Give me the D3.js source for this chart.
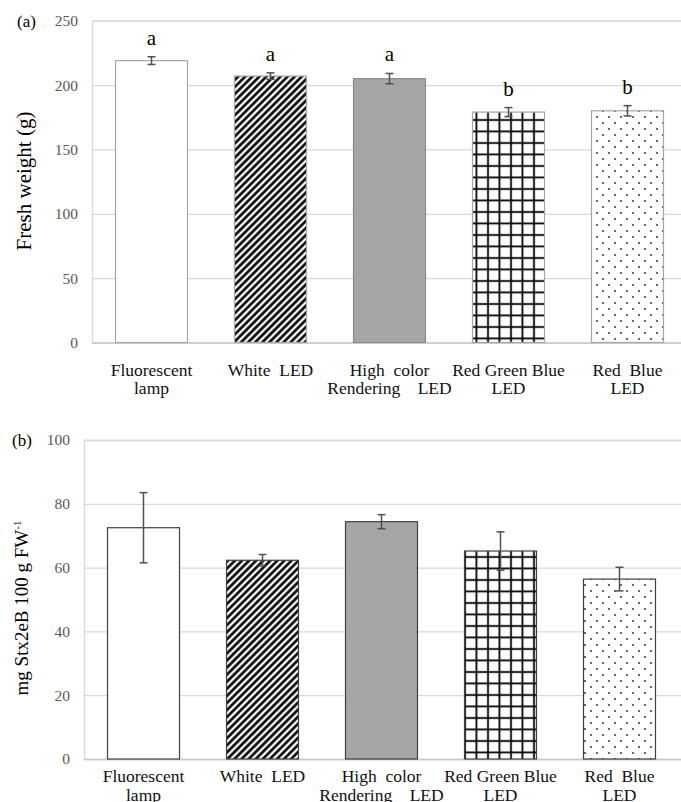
<!DOCTYPE html>
<html>
<head>
<meta charset="utf-8">
<script src="https://cdn.jsdelivr.net/npm/d3@7"></script>
<style>
  body { margin: 0; background: #fff; }
  svg text { font-family: "Liberation Serif", "Times New Roman", serif; white-space: pre; }
</style>
</head>
<body>
<div id="chart"></div>
<script>
// categories and their two-line tick labels
var categories = ["Fluorescent lamp", "White LED", "High color Rendering LED", "Red Green Blue LED", "Red Blue LED"];
var labelLines = [["Fluorescent", "lamp"], ["White  LED"], ["High  color", "Rendering    LED"], ["Red Green Blue", "LED"], ["Red  Blue", "LED"]];

// (a) fresh weight
var freshWeight = [219, 207, 205, 179, 180];
var freshWeightErr = [3, 2.5, 4, 3.5, 4];
var freshLetters = ["a", "a", "a", "b", "b"];
var weightTicks = [0, 50, 100, 150, 200, 250];

// (b) Stx2eB content
var stxContent = [72.5, 62.3, 74.4, 65.2, 56.4];
var stxErr = [11, 1.8, 2.2, 6, 3.7];
var stxTicks = [0, 20, 40, 60, 80, 100];

var barFills = ["#ffffff", "url(#stripes)", "#a6a6a6", "url(#grid)", "url(#dots)"];

var svgWidth = 681;
var svgHeight = 802;

var svg = d3.select("#chart")
  .append("svg")
  .attr("width", svgWidth)
  .attr("height", svgHeight);

// fill patterns
var defs = svg.append("defs");

var stripes = defs.append("pattern")
  .attr("id", "stripes")
  .attr("patternUnits", "userSpaceOnUse")
  .attr("width", 5)
  .attr("height", 10)
  .attr("patternTransform", "rotate(45)");
stripes.append("rect").attr("width", 5).attr("height", 10).attr("fill", "#fff");
stripes.append("line")
  .attr("x1", 2.5).attr("y1", 0).attr("x2", 2.5).attr("y2", 10)
  .attr("stroke", "#000").attr("stroke-width", 2.6);

var grid = defs.append("pattern")
  .attr("id", "grid")
  .attr("patternUnits", "userSpaceOnUse")
  .attr("width", 11.5)
  .attr("height", 11.5);
grid.append("rect").attr("width", 11.5).attr("height", 11.5).attr("fill", "#fff");
grid.append("line")
  .attr("x1", 5).attr("y1", 0).attr("x2", 5).attr("y2", 11.5)
  .attr("stroke", "#000").attr("stroke-width", 1.8);
grid.append("line")
  .attr("x1", 0).attr("y1", 5).attr("x2", 11.5).attr("y2", 5)
  .attr("stroke", "#000").attr("stroke-width", 1.8);

var dots = defs.append("pattern")
  .attr("id", "dots")
  .attr("patternUnits", "userSpaceOnUse")
  .attr("width", 12)
  .attr("height", 12);
dots.append("rect").attr("width", 12).attr("height", 12).attr("fill", "#fff");
dots.append("circle").attr("cx", 3).attr("cy", 3).attr("r", 0.9).attr("fill", "#222");
dots.append("circle").attr("cx", 9).attr("cy", 9).attr("r", 0.9).attr("fill", "#222");

// draws one panel
function drawPanel(opt) {
  var g = svg.append("g");

  var xScale = d3.scaleBand()
    .domain(categories)
    .range([opt.left, opt.left + 595])
    .paddingInner(0.395)
    .paddingOuter(0.1975);

  var yScale = d3.scaleLinear()
    .domain([0, d3.max(opt.ticks)])
    .range([opt.bottom, opt.top]);

  // gridlines
  var yAxis = d3.axisLeft(yScale)
    .tickValues(opt.ticks)
    .tickSize(-(svgWidth - opt.left + 20))
    .tickPadding(14);

  var axisG = g.append("g")
    .attr("transform", `translate(${opt.left},0)`)
    .call(yAxis);
  axisG.select(".domain").attr("stroke", "#d9d9d9").attr("stroke-width", 1.3);
  axisG.selectAll(".tick line").attr("stroke", "#d9d9d9").attr("stroke-width", 1.3);
  axisG.selectAll(".tick text")
    .attr("fill", "#595959")
    .style("font-size", "15.5px")
    .style("font-family", "'Liberation Serif', serif");
  axisG.selectAll(".tick").filter(d => d === 0).select("line").attr("stroke", "#c8c8c8");

  // bars
  g.selectAll(".bar")
    .data(opt.values)
    .enter()
    .append("rect")
    .attr("x", (d, i) => xScale(categories[i]))
    .attr("y", d => yScale(d))
    .attr("width", xScale.bandwidth())
    .attr("height", d => yScale(0) - yScale(d))
    .attr("fill", (d, i) => barFills[i])
    .attr("stroke", (d, i) => i === 2 ? opt.stroke2 : opt.stroke)
    .attr("stroke-width", 1.2);

  // error bars
  var errG = g.selectAll(".err")
    .data(opt.values)
    .enter()
    .append("g")
    .attr("stroke", "#505050")
    .attr("stroke-width", 1.5);
  errG.append("line")
    .attr("x1", (d, i) => xScale(categories[i]) + xScale.bandwidth() / 2)
    .attr("x2", (d, i) => xScale(categories[i]) + xScale.bandwidth() / 2)
    .attr("y1", (d, i) => yScale(d - opt.errors[i]))
    .attr("y2", (d, i) => yScale(d + opt.errors[i]));
  [-1, 1].forEach(function(s) {
    errG.append("line")
      .attr("x1", (d, i) => xScale(categories[i]) + xScale.bandwidth() / 2 - 4)
      .attr("x2", (d, i) => xScale(categories[i]) + xScale.bandwidth() / 2 + 4)
      .attr("y1", (d, i) => yScale(d + s * opt.errors[i]))
      .attr("y2", (d, i) => yScale(d + s * opt.errors[i]));
  });

  // significance letters
  if (opt.letters) {
    g.selectAll(".letter")
      .data(opt.letters)
      .enter()
      .append("text")
      .attr("x", (d, i) => xScale(categories[i]) + xScale.bandwidth() / 2)
      .attr("y", (d, i) => yScale(opt.values[i] + opt.errors[i]) - 12)
      .attr("text-anchor", "middle")
      .style("font-size", "21px")
      .attr("fill", "#000")
      .text(d => d);
  }

  // category labels
  var labels = g.selectAll(".xlabel")
    .data(labelLines)
    .enter()
    .append("text")
    .attr("text-anchor", "middle")
    .style("font-size", "17.5px")
    .attr("fill", "#111");
  labels.selectAll("tspan")
    .data((d, i) => d.map(t => ({ t: t, i: i })))
    .enter()
    .append("tspan")
    .attr("x", d => xScale(categories[d.i]) + xScale.bandwidth() / 2)
    .attr("y", (d, j) => opt.bottom + opt.labelGap + j * 18.5)
    .text(d => d.t);

  // panel tag
  g.append("text")
    .attr("x", opt.tagX)
    .attr("y", opt.top + 6)
    .style("font-size", "17px")
    .attr("fill", "#000")
    .text(opt.tag);

  return yScale;
}

drawPanel({
  tag: "(a)", tagX: 17,
  left: 92, top: 20.7, bottom: 342.5,
  ticks: weightTicks, values: freshWeight, errors: freshWeightErr, letters: freshLetters,
  stroke: "#a6a6a6", stroke2: "#8c8c8c", labelGap: 33
});

drawPanel({
  tag: "(b)", tagX: 12,
  left: 84, top: 440, bottom: 759,
  ticks: stxTicks, values: stxContent, errors: stxErr, letters: null,
  stroke: "#404040", stroke2: "#404040", labelGap: 23
});

// y axis titles
svg.append("text")
  .attr("transform", "translate(31,181) rotate(-90)")
  .attr("text-anchor", "middle")
  .style("font-size", "21px")
  .attr("fill", "#000")
  .text("Fresh weight (g)");

var stxTitle = svg.append("text")
  .attr("transform", "translate(28,608) rotate(-90)")
  .attr("text-anchor", "middle")
  .style("font-size", "19px")
  .attr("fill", "#000");
stxTitle.append("tspan").text("mg Stx2eB 100 g FW");
stxTitle.append("tspan")
  .attr("dy", -7)
  .style("font-size", "11px")
  .text("-1");
</script>
</body>
</html>
